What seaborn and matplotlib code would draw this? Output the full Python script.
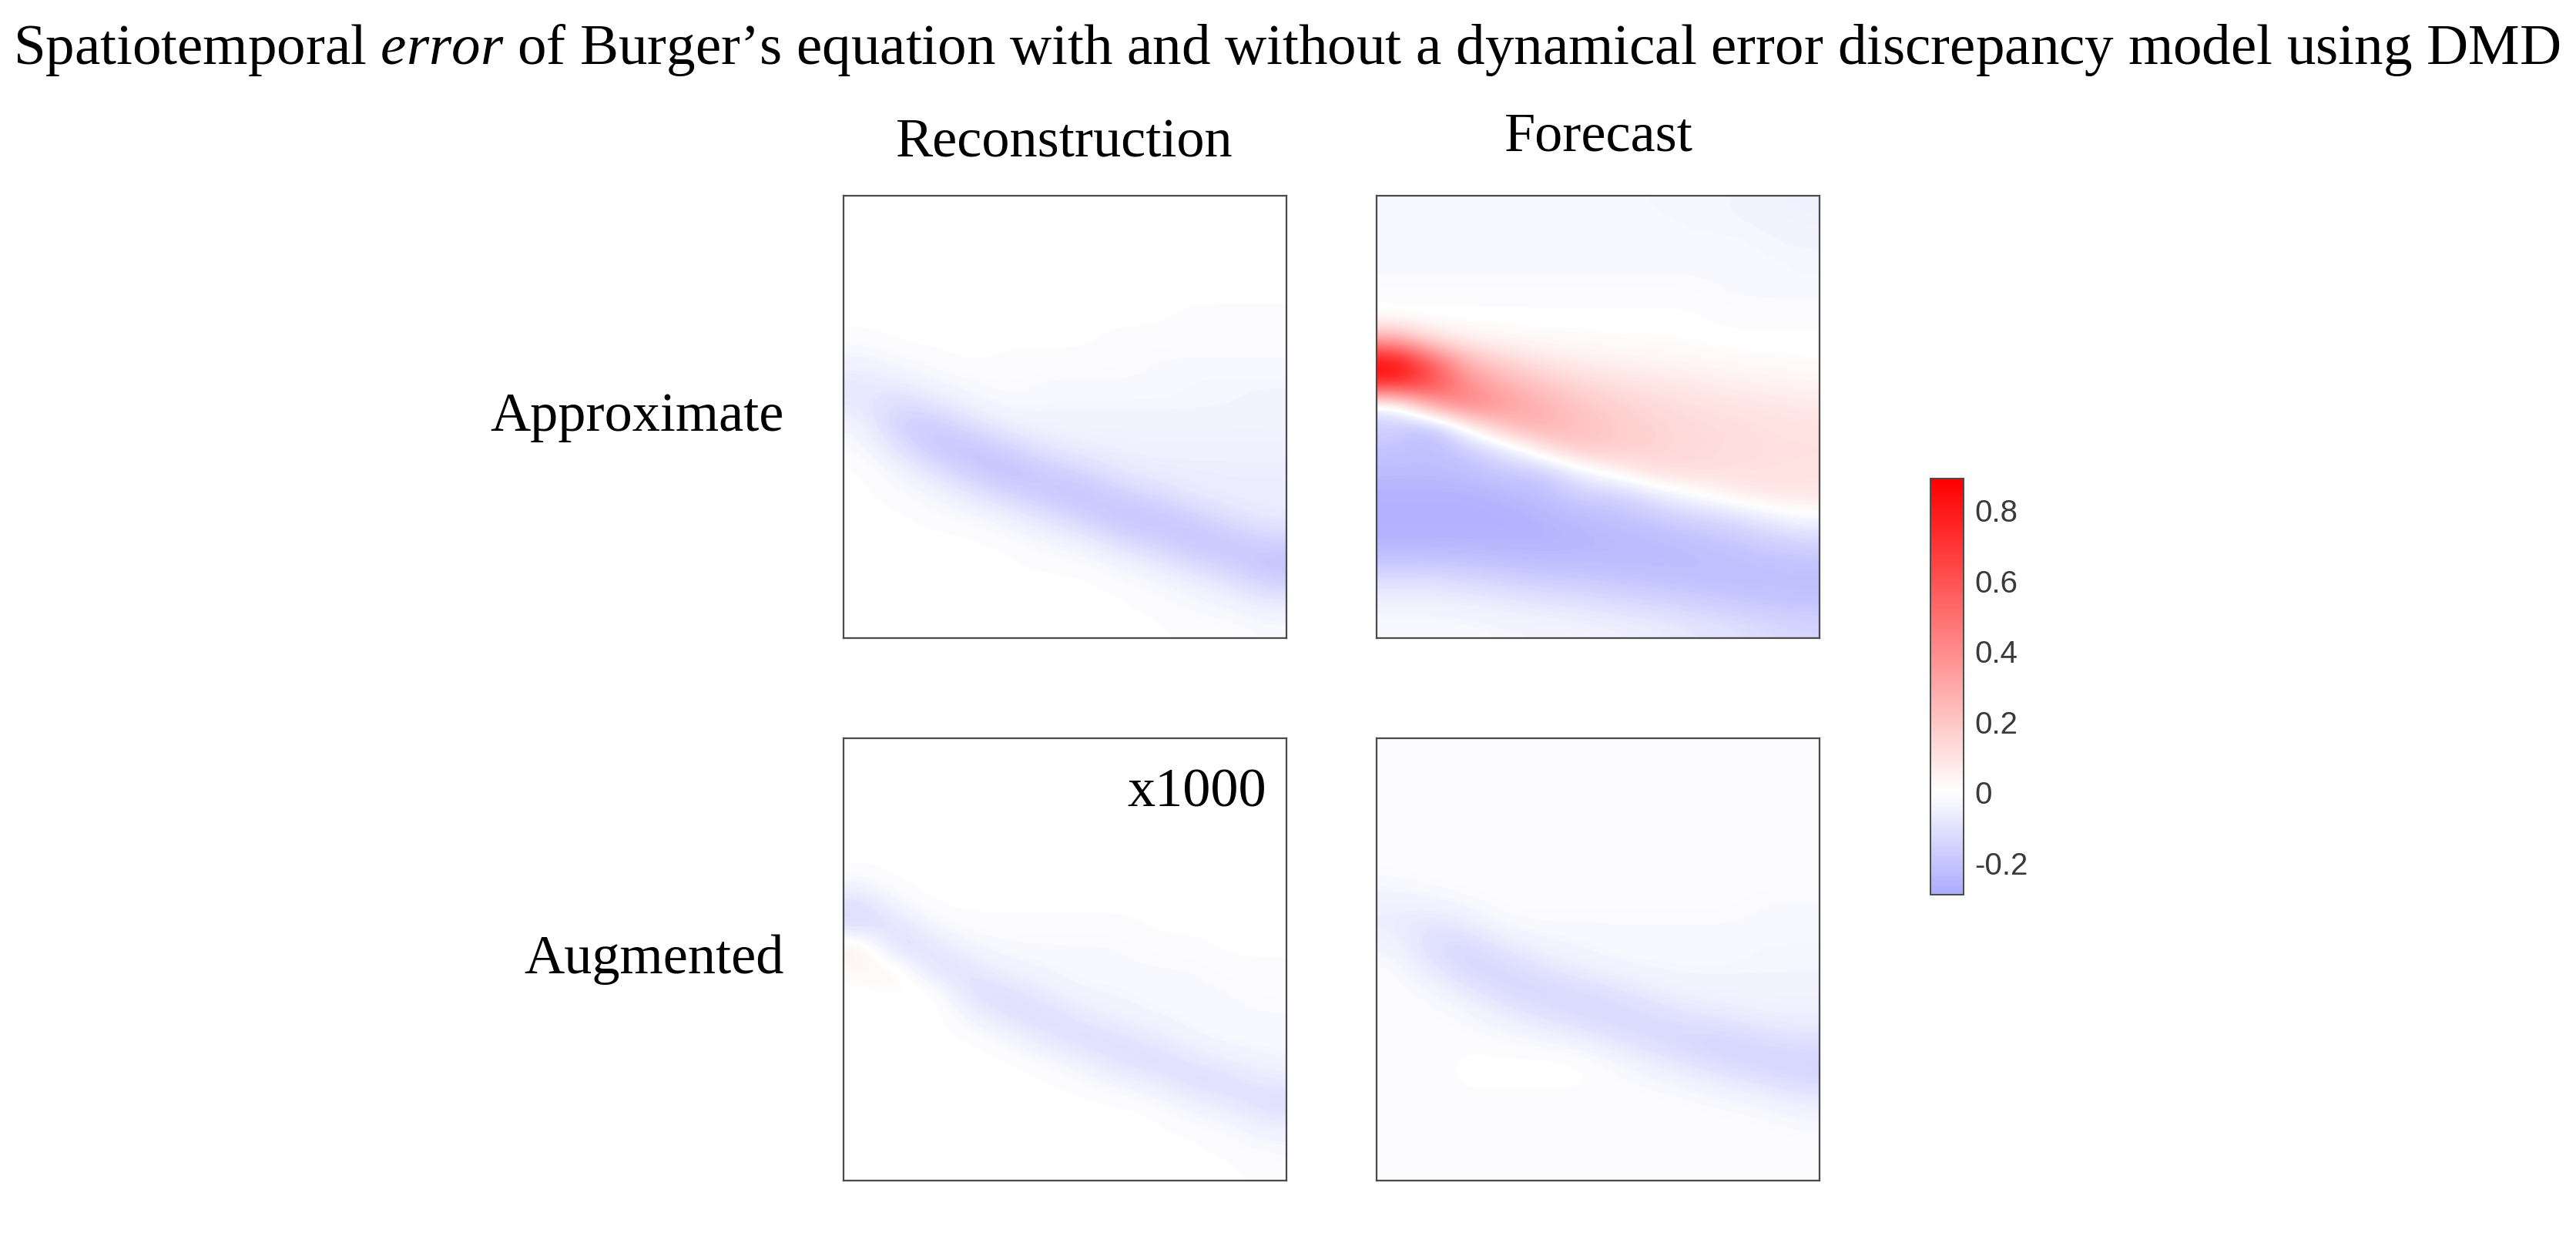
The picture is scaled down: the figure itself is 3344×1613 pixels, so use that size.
import numpy as np
import seaborn as sns
import matplotlib.pyplot as plt
from matplotlib.colors import ListedColormap

# error fields, in hundredths
# 20 rows (top -> bottom) x 12 columns (left -> right)
approx_recon = [
    [0, 0, 0, 0, 0, 0, 0, 0, 0, 0, 0, 0],
    [0, 0, 0, 0, 0, 0, 0, 0, 0, 0, 0, 0],
    [0, 0, 0, 0, 0, 0, 0, 0, 0, 0, 0, 0],
    [0, 0, 0, 0, 0, 0, 0, 0, 0, 0, 0, 0],
    [0, 0, 0, 0, 0, 0, 0, 0, 0, 0, 0, 0],
    [0, 0, 0, 0, 0, 0, 0, 0, 0, -1, -1, -1],
    [-1, 0, 0, 0, 0, 0, 0, -1, -1, -1, -1, -1],
    [-4, -2, -1, 0, -1, -1, -1, -1, -2, -2, -2, -2],
    [-8, -6, -3, -2, -1, -2, -2, -2, -2, -3, -3, -3],
    [-7, -14, -9, -4, -2, -3, -3, -3, -3, -3, -3, -4],
    [-3, -16, -19, -12, -6, -4, -4, -4, -4, -4, -4, -4],
    [-1, -9, -19, -21, -16, -9, -6, -5, -5, -5, -5, -5],
    [0, -3, -9, -18, -22, -18, -14, -8, -6, -6, -6, -6],
    [0, -1, -3, -8, -14, -19, -21, -16, -12, -7, -6, -6],
    [0, 0, -1, -2, -5, -10, -16, -21, -20, -16, -10, -7],
    [0, 0, 0, 0, -1, -3, -6, -13, -17, -21, -18, -14],
    [0, 0, 0, 0, 0, -1, -1, -4, -8, -14, -18, -21],
    [0, 0, 0, 0, 0, 0, 0, -1, -2, -5, -9, -16],
    [0, 0, 0, 0, 0, 0, 0, 0, -1, -2, -3, -6],
    [0, 0, 0, 0, 0, 0, 0, 0, 0, -1, -1, -2],
]

approx_forecast = [
    [-2, -2, -2, -2, -2, -2, -2, -3, -3, -3, -4, -5],
    [-2, -2, -2, -2, -2, -2, -2, -2, -3, -3, -3, -4],
    [-2, -2, -2, -2, -2, -2, -2, -2, -2, -2, -3, -3],
    [-2, -2, -2, -2, -2, -2, -2, -2, -2, -2, -2, -3],
    [-1, -1, -1, -1, -1, -1, -1, -1, -1, -2, -2, -2],
    [0, 0, 0, 0, 0, 0, 0, 0, 0, -1, -1, -1],
    [30, 10, 5, 3, 2, 2, 1, 1, 1, 0, 0, 0],
    [89, 55, 24, 15, 9, 6, 5, 4, 3, 2, 2, 1],
    [75, 65, 38, 27, 20, 14, 11, 9, 8, 6, 5, 4],
    [-8, 30, 45, 34, 27, 20, 16, 13, 11, 10, 9, 8],
    [-16, -25, 2, 22, 28, 22, 18, 15, 13, 12, 11, 10],
    [-20, -22, -18, -9, 8, 20, 17, 15, 13, 12, 11, 11],
    [-23, -23, -22, -18, -19, -5, 4, 12, 12, 11, 11, 10],
    [-26, -26, -26, -24, -22, -16, -16, -8, -1, 5, 9, 9],
    [-27, -27, -27, -27, -25, -23, -21, -18, -14, -12, -6, -1],
    [-26, -26, -26, -26, -26, -25, -24, -23, -21, -19, -16, -13],
    [-20, -20, -21, -22, -23, -23, -23, -23, -23, -22, -21, -20],
    [-10, -10, -12, -14, -16, -17, -19, -20, -21, -22, -22, -22],
    [-4, -4, -5, -6, -8, -9, -11, -13, -15, -17, -19, -20],
    [-2, -2, -2, -3, -3, -4, -5, -6, -8, -10, -12, -14],
]

# shown x1000 in the figure
augmented_recon = [
    [0, 0, 0, 0, 0, 0, 0, 0, 0, 0, 0, 0],
    [0, 0, 0, 0, 0, 0, 0, 0, 0, 0, 0, 0],
    [0, 0, 0, 0, 0, 0, 0, 0, 0, 0, 0, 0],
    [0, 0, 0, 0, 0, 0, 0, 0, 0, 0, 0, 0],
    [0, 0, 0, 0, 0, 0, 0, 0, 0, 0, 0, 0],
    [0, 0, 0, 0, 0, 0, 0, 0, 0, 0, 0, 0],
    [-2, 0, 0, 0, 0, 0, 0, 0, 0, 0, 0, 0],
    [-12, -2, 0, 0, 0, 0, 0, 0, 0, 0, 0, 0],
    [-12, -10, -2, -1, -1, -1, -1, -1, 0, 0, 0, 0],
    [8, -13, -9, -3, -2, -2, -2, -2, -1, -1, 0, 0],
    [2, 5, -12, -9, -4, -3, -2, -2, -2, -2, -1, -1],
    [0, 1, 2, -12, -11, -6, -3, -3, -2, -2, -2, -1],
    [0, 0, 1, -4, -11, -12, -7, -4, -3, -2, -2, -2],
    [0, 0, 0, 0, -3, -9, -12, -10, -6, -3, -2, -2],
    [0, 0, 0, 0, 0, -2, -6, -11, -12, -8, -5, -3],
    [0, 0, 0, 0, 0, 0, -1, -4, -7, -12, -11, -7],
    [0, 0, 0, 0, 0, 0, 0, 0, -1, -5, -8, -12],
    [0, 0, 0, 0, 0, 0, 0, 0, 0, -1, -2, -6],
    [0, 0, 0, 0, 0, 0, 0, 0, 0, 0, -1, -2],
    [0, 0, 0, 0, 0, 0, 0, 0, 0, 0, 0, -1],
]

augmented_forecast = [
    [-1, -1, -1, -1, -1, -1, -1, -1, -1, -1, -1, -1],
    [-1, -1, -1, -1, -1, -1, -1, -1, -1, -1, -1, -1],
    [-1, -1, -1, -1, -1, -1, -1, -1, -1, -1, -1, -1],
    [-1, -1, -1, -1, -1, -1, -1, -1, -1, -1, -1, -1],
    [-1, -1, -1, -1, -1, -1, -1, -1, -1, -1, -1, -1],
    [-1, -1, -1, -1, -1, -1, -1, -1, -1, -1, -1, -1],
    [-2, -1, -1, -1, -1, -1, -1, -1, -1, -1, -1, -1],
    [-5, -4, -2, -1, -1, -1, -1, -1, -1, -1, -2, -2],
    [-6, -10, -7, -2, -2, -2, -2, -2, -2, -2, -2, -2],
    [-3, -12, -14, -8, -4, -3, -2, -2, -2, -2, -3, -3],
    [-1, -7, -14, -14, -10, -6, -4, -3, -3, -3, -3, -3],
    [-1, -2, -7, -13, -14, -13, -10, -6, -4, -4, -4, -4],
    [-1, -1, -2, -6, -10, -13, -14, -12, -9, -7, -5, -5],
    [-1, -1, -1, -2, -3, -6, -10, -13, -14, -14, -11, -9],
    [-1, -1, 0, 0, 0, 0, -3, -7, -11, -14, -15, -15],
    [-1, -1, 0, 0, 0, 0, -1, -2, -4, -7, -10, -13],
    [-1, -1, -1, -1, -1, -1, -1, -1, -1, -2, -3, -6],
    [-1, -1, -1, -1, -1, -1, -1, -1, -1, -1, -1, -2],
    [-1, -1, -1, -1, -1, -1, -1, -1, -1, -1, -1, -1],
    [-1, -1, -1, -1, -1, -1, -1, -1, -1, -1, -1, -1],
]

col_titles = ["Reconstruction", "Forecast"]
row_titles = ["Approximate", "Augmented"]
cbar_ticks = [-0.2, 0, 0.2, 0.4, 0.6, 0.8]
cbar_labels = ["-0.2", "0", "0.2", "0.4", "0.6", "0.8"]
clim = (-0.29, 0.89)

sns.set_theme(style="white")
plt.rcParams['font.family'] = ['Liberation Serif', 'DejaVu Serif']
plt.rcParams['text.color'] = 'black'
plt.rcParams['mathtext.fontset'] = 'custom'
plt.rcParams['mathtext.rm'] = 'Liberation Serif'
plt.rcParams['mathtext.it'] = 'Liberation Serif:italic'

# symmetric blue-white-red, only the part inside clim is shown
full_cmap = sns.blend_palette(["#0000ff", "#ffffff", "#ff0000"], as_cmap=True)
lo = (clim[0] + clim[1]) / (2 * clim[1])
cmap = ListedColormap(full_cmap(np.linspace(lo, 1, 256)))

fig = plt.figure(figsize=(33.44, 16.13), dpi=100)

fields = [[approx_recon, approx_forecast], [augmented_recon, augmented_forecast]]
lefts = [0.3275, 0.5344]
bottoms = [0.4867, 0.0503]
W, H = 0.1719, 0.3558
row_y = [0.6534, 0.2170]

axes = []
for i in range(2):
    for j in range(2):
        ax = fig.add_axes([lefts[j], bottoms[i], W, H])
        im = ax.imshow(np.array(fields[i][j]) / 100, cmap=cmap,
                       vmin=clim[0], vmax=clim[1],
                       interpolation='bicubic', interpolation_stage='data',
                       aspect='auto', extent=(0, 1, 1, 0))
        ax.set_xticks([])
        ax.set_yticks([])
        for s in ax.spines.values():
            s.set_visible(True)
            s.set_edgecolor('#4a4a4a')
            s.set_linewidth(1.6)
        axes.append(ax)

    fig.text(0.3044, row_y[i], row_titles[i], ha='right', va='baseline', fontsize=52)

fig.text(0.4133, 0.8741, col_titles[0], ha='center', va='baseline', fontsize=52)
fig.text(0.6205, 0.8791, col_titles[1], ha='center', va='baseline', fontsize=52)

# scale note on the augmented reconstruction panel
axes[2].text(0.955, 0.846, "x1000", transform=axes[2].transAxes,
             ha='right', va='baseline', fontsize=52)

fig.text(0.4994, 0.9485,
         r"Spatiotemporal $\mathit{error}$ of Burger’s equation with and without "
         r"a dynamical error discrepancy model using DMD",
         ha='center', va='baseline', fontsize=54)

cax = fig.add_axes([0.7494, 0.2802, 0.01286, 0.3348])
cb = fig.colorbar(im, cax=cax, ticks=cbar_ticks)
cb.set_ticklabels(cbar_labels)
cb.outline.set_edgecolor('#4a4a4a')
cb.outline.set_linewidth(1.4)
cax.tick_params(direction='in', length=5, width=1.2, color='#333333',
                labelsize=29, labelcolor='#3a3a3a', pad=10)
for lbl in cax.get_yticklabels():
    lbl.set_fontfamily(['Liberation Sans', 'DejaVu Sans'])

plt.savefig("out.png", dpi=100)
plt.close()
